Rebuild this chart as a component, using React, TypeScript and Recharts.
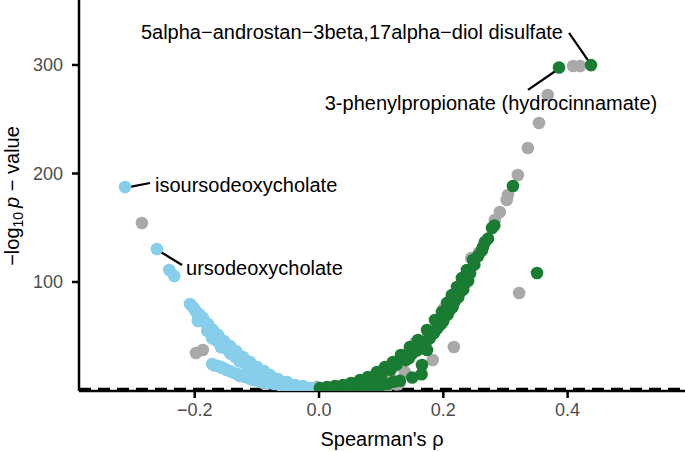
import React from 'react';
import { ScatterChart, Scatter, XAxis, YAxis, ReferenceLine, Label } from 'recharts';

// Spearman's rho and -log10 p for each metabolite group
const grayRho = [-0.285, -0.198, -0.187, -0.172, -0.14, -0.111, -0.127, -0.103, -0.084, -0.047, -0.003, -0.06, -0.02, 0.01,
  0.409, 0.42, 0.368, 0.354, 0.336, 0.32, 0.304, 0.302, 0.291, 0.283, 0.322, 0.217, 0.183, 0.138, 0.211, 0.227, 0.2, 0.155,
  0.12, 0.09, 0.06, 0.04, 0.13, 0.1, 0.101, 0.114,
  0.146, 0.175, 0.245, 0.257, 0.05, 0.08, 0.11, 0.125, -0.155, -0.09, -0.03];
const grayLogP = [154.4, 34.6, 37.3, 55.8, 37.3, 18.9, 13.4, 10.6, 9.7, 5.1, 3.2, 4, 1.5, 1,
  299.1, 299.1, 272.4, 246.5, 223.5, 198.6, 180.2, 175.6, 164.5, 157.1, 89.9, 40.1, 28.1, 17.1, 83.4, 97, 75, 44,
  22, 10, 6, 3, 7, 4, 9.7, 12.4,
  38, 50, 122, 127, 2, 2.5, 4, 5.5, 45, 7, 2];

const blueRho = [-0.312, -0.261, -0.241, -0.233,
  -0.2076, -0.1995, -0.193, -0.1866, -0.1786, -0.1706, -0.1625, -0.1529, -0.1432, -0.1335, -0.1223, -0.111, -0.0998,
  -0.0885, -0.0788, -0.066, -0.0515, -0.0386, -0.0257, -0.0129,
  -0.203, -0.196, -0.19, -0.182, -0.175, -0.167, -0.158, -0.148, -0.138, -0.128, -0.117, -0.105, -0.094, -0.083,
  -0.072, -0.06, -0.048, -0.035, -0.02, -0.008,
  -0.18, -0.165, -0.15, -0.135, -0.12, -0.1, -0.085, -0.07,
  -0.195, -0.172, -0.158, -0.143, -0.128, -0.113, -0.098, -0.08, -0.065,
  -0.172, -0.1625, -0.1545, -0.1432, -0.132, -0.119, -0.106, -0.0917, -0.0788, -0.0628, -0.0467, -0.0306,
  -0.168, -0.158, -0.149, -0.138, -0.125, -0.112, -0.098, -0.085, -0.072, -0.055, -0.04, -0.02, -0.01];
const blueLogP = [187.6, 130.4, 111, 105.5,
  79.7, 74.2, 70.5, 66.8, 61.3, 55.8, 51.2, 45.6, 41.0, 36.4, 30.9, 26.3, 21.7,
  18.0, 14.3, 10.6, 7.8, 5.1, 4.1, 2.3,
  77, 71, 66, 62, 57, 52, 47, 42, 37, 32, 27, 22, 18, 14,
  11, 8, 6, 4, 2.5, 1.5,
  55, 46, 39, 31, 25, 17, 12, 8,
  64, 48, 40, 34, 27, 21, 15, 10, 7,
  24.4, 22.6, 20.7, 18.0, 15.2, 12.4, 9.7, 7.8, 6.9, 5.1, 4.1, 3.2,
  23, 21.5, 19, 16.5, 13.5, 11, 8.8, 7.5, 6, 4.5, 3.5, 2.5, 1.5];

const greenRho = [0.0016, 0.0129, 0.0257, 0.0386, 0.0515, 0.066, 0.0788, 0.0933, 0.1062, 0.119, 0.1319, 0.1464, 0.1593,
  0.1738, 0.1866, 0.1979, 0.206, 0.214, 0.222, 0.23, 0.238, 0.2478, 0.2639, 0.2671, 0.2784, 0.3121,
  0.3508, 0.1738, 0.1657, 0.3862, 0.4377, 0.08, 0.1, 0.12, 0.06,
  0.03, 0.045, 0.06, 0.075, 0.09, 0.1, 0.115, 0.125, 0.14, 0.15, 0.165, 0.178, 0.19, 0.2, 0.21, 0.218, 0.226, 0.234,
  0.243, 0.25, 0.256, 0.262, 0.272, 0.282,
  0.145, 0.158, 0.172, 0.185, 0.196, 0.207, 0.215, 0.224, 0.232, 0.24,
  0.02, 0.05, 0.07, 0.09, 0.11, 0.13, 0.15, 0.165];
const greenLogP = [2.3, 3.2, 4.1, 5.1, 6.9, 9.7, 12.4, 17.1, 21.7, 26.3, 32.7, 40.1, 46.5,
  55.8, 65.0, 72.4, 80.6, 88.0, 95.4, 103.7, 111.1, 120.3, 132.3, 136.9, 149.8, 188.5,
  108.3, 37.3, 23.5, 297.7, 299.9, 4, 5, 8, 2,
  2.5, 3.5, 5.5, 8, 11, 15, 19, 24, 28, 34, 40, 48, 57, 64, 74, 82, 90, 98,
  108, 116, 124, 129, 140, 152,
  30, 37, 45, 53, 61, 70, 77, 86, 93, 101,
  1, 1.5, 3, 3.5, 6, 9, 12, 15];

const xTicks = [-0.2, 0, 0.2, 0.4];
const yTicks = [100, 200, 300];

const labels = [
  { x: 0.053, y: 330.4, text: '5alpha\u2212androstan\u22123beta,17alpha\u2212diol disulfate', anchor: 'middle' },
  { x: 0.2767, y: 265, text: '3-phenylpropionate (hydrocinnamate)', anchor: 'middle' },
  { x: -0.264, y: 189.4, text: 'isoursodeoxycholate', anchor: 'start' },
  { x: -0.214, y: 112.9, text: 'ursodeoxycholate', anchor: 'start' },
];

const segments = [
  [{ x: 0.4023, y: 329.5 }, { x: 0.436, y: 301.8 }],
  [{ x: 0.3363, y: 277.0 }, { x: 0.3829, y: 295.4 }],
  [{ x: -0.3041, y: 187.6 }, { x: -0.2719, y: 191.2 }],
  [{ x: -0.2574, y: 128.6 }, { x: -0.2204, y: 115.7 }],
];

const toPoints = (xs: number[], ys: number[]) => xs.map((x, i) => ({ x, y: ys[i] }));

const FONT = '"Liberation Sans", Arial, sans-serif';

const dot = (color: string) => (p: any) => <circle cx={p.cx} cy={p.cy} r={6.3} fill={color} />;

const fmtX = (v: number) => (v < 0 ? '\u2212' + Math.abs(v).toFixed(1) : v.toFixed(1));

const YTitle = () => (
  <text x={0} y={0} transform="translate(19,196) rotate(-90)" textAnchor="middle" fontSize={20} fill="#000" fontFamily={FONT}>
    <tspan>{'\u2212log'}</tspan>
    <tspan fontSize={14} dy={4}>10</tspan>
    <tspan dy={-4} dx={4} fontStyle="italic">p</tspan>
    <tspan>{' \u2212 value'}</tspan>
  </text>
);

export default function App() {
  return (
    <div style={{ position: 'absolute', left: 0, top: 0, background: '#fff' }}>
      <ScatterChart width={685} height={452} margin={{ top: 0, right: 0, bottom: 0, left: 0 }}>
        <XAxis type="number" dataKey="x" domain={[-0.3862, 0.5889]} ticks={xTicks} tickFormatter={fmtX}
          height={61} axisLine={{ stroke: '#000', strokeWidth: 2.5 }} tickLine={{ stroke: '#000', strokeWidth: 2.5 }}
          tickSize={7} tickMargin={5} tick={{ fill: '#4d4d4d', fontSize: 18, fontFamily: FONT }} allowDataOverflow>
          <Label value={"Spearman's \u03c1"} position="insideBottom" offset={6} fill="#000" fontSize={20} fontFamily={FONT} />
        </XAxis>
        <YAxis type="number" dataKey="y" domain={[-0.46, 359.9]} ticks={yTicks} width={79}
          axisLine={{ stroke: '#000', strokeWidth: 2.5 }} tickLine={{ stroke: '#000', strokeWidth: 2.5 }}
          tickSize={7} tickMargin={9} tick={{ fill: '#4d4d4d', fontSize: 18, fontFamily: FONT }} allowDataOverflow>
          <Label content={<YTitle />} />
        </YAxis>
        <Scatter data={toPoints(grayRho, grayLogP)} shape={dot('#a9a9a9')} isAnimationActive={false} />
        <Scatter data={toPoints(blueRho, blueLogP)} shape={dot('#87ceeb')} isAnimationActive={false} />
        <Scatter data={toPoints(greenRho, greenLogP)} shape={dot('#1a7b32')} isAnimationActive={false} />
        <ReferenceLine y={1.3} stroke="#000" strokeWidth={2.5} strokeDasharray="12 7" />
        {segments.map((s, i) => (
          <ReferenceLine key={i} segment={s} stroke="#000" strokeWidth={2.2} ifOverflow="visible" />
        ))}
        <Scatter data={labels} isAnimationActive={false}
          shape={(p: any) => (
            <text x={p.cx} y={p.cy} textAnchor={p.payload.anchor} dominantBaseline="central" fontSize={20} fill="#000" fontFamily={FONT}>
              {p.payload.text}
            </text>
          )} />
      </ScatterChart>
    </div>
  );
}
